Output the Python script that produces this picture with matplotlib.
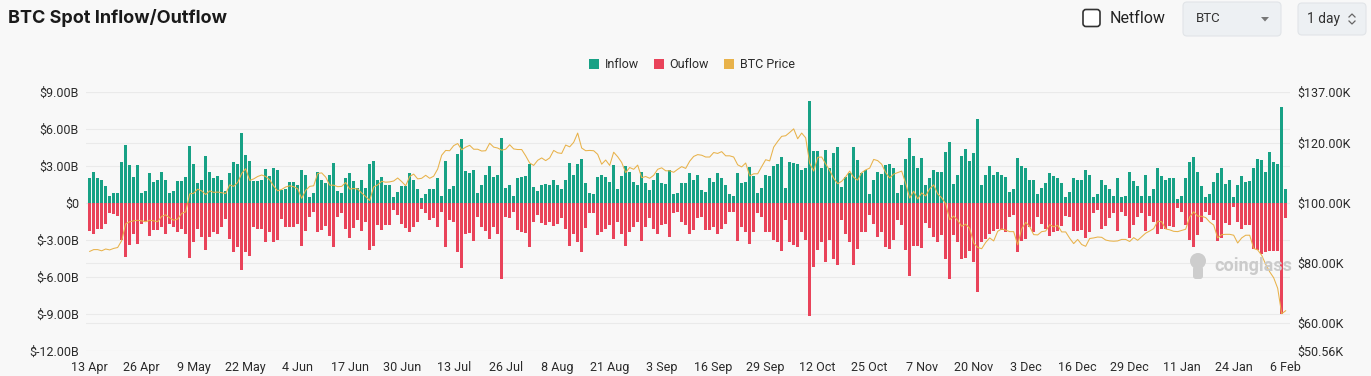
import matplotlib
matplotlib.use("Agg")
import matplotlib.pyplot as plt
from matplotlib.patches import Patch, FancyBboxPatch, Polygon, Circle
import numpy as np

# daily values, 13 Apr 2025 .. 6 Feb 2026 (300 days), in $B
inflow = [
    2.0, 2.5, 2.0, 1.9, 1.35, 0.55, 0.85, 0.85, 3.3, 4.7,
    3.05, 2.1, 3.05, 0.85, 1.0, 2.4, 1.7, 1.85, 2.55, 1.9,
    0.85, 1.0, 1.75, 1.8, 2.1, 4.6, 3.15, 1.6, 1.9, 3.85,
    2.55, 2.0, 2.15, 1.9, 1.0, 2.45, 3.35, 3.15, 5.7, 3.9,
    3.4, 1.75, 1.75, 1.9, 2.75, 2.2, 2.8, 2.65, 1.05, 1.1,
    1.68, 1.68, 1.5, 2.65, 2.25, 0.5, 0.85, 2.5, 1.9, 1.6,
    2.3, 3.25, 0.95, 0.85, 2.0, 2.4, 1.75, 1.2, 1.9, 1.25,
    3.15, 3.4, 1.85, 2.1, 1.5, 1.45, 0.45, 0.9, 1.35, 1.35,
    2.4, 1.85, 1.15, 0.4, 0.75, 1.15, 1.1, 2.0, 0.6, 3.4,
    1.15, 1.35, 4.0, 5.2, 2.6, 2.4, 2.7, 0.8, 1.5, 2.25,
    3.0,
    2.1, 2.3, 5.3, 1.25, 1.45, 0.6, 2.0, 2.1, 2.2, 3.2,
    1.3, 1.0, 1.45, 1.55, 1.45, 1.9, 1.45, 1.15, 1.85, 3.25,
    2.3, 3.2, 3.6, 1.6, 0.8, 0.7, 2.1, 2.3, 2.1, 1.7,
    3.05, 1.15, 2.2, 3.0, 2.5, 1.7, 1.5, 2.55, 1.6, 1.05,
    1.9, 2.45, 1.6, 1.55, 2.7, 0.7, 0.85, 1.6, 1.65, 2.45,
    1.9, 2.25, 1.05, 0.9, 2.0, 1.7, 2.45, 2.0, 1.45, 0.7,
    0.55, 2.45, 1.65, 1.7, 2.9, 2.2, 0.85, 1.2, 2.3, 2.15,
    3.0, 3.15, 3.7, 1.2, 3.35, 3.25, 3.15, 2.65, 2.85, 8.25,
    4.25, 4.25, 2.85, 4.3, 2.85, 4.05, 4.55, 1.3, 2.1, 2.45,
    4.55, 3.45, 2.4, 2.65, 0.75, 1.85, 2.55, 2.35, 3.05, 3.2,
    2.85,
    0.85, 1.5, 3.55, 5.3, 3.8, 2.85, 3.65, 1.45, 2.0, 2.7,
    2.55, 2.5, 4.1, 4.95, 1.55, 2.3, 3.8, 4.4, 3.4, 4.05,
    6.8, 1.5, 2.3, 3.0, 2.25, 2.5, 2.3, 2.1, 0.9, 1.1,
    3.65, 3.0, 2.85, 1.85, 1.9, 0.75, 1.25, 1.65, 2.4, 2.2,
    2.05, 1.65, 0.5, 0.9, 2.0, 1.85, 1.85, 2.65, 2.25, 0.45,
    0.75, 1.9, 1.5, 1.15, 0.6, 2.0, 0.5, 0.55, 2.5, 1.75,
    1.35, 0.6, 2.25, 0.6, 1.15, 2.8, 2.2, 1.85, 2.0, 2.0,
    0.35, 0.6, 2.05, 3.3, 3.7, 2.5, 1.35, 0.5, 0.7, 1.7,
    2.45, 2.85, 1.55, 1.9, 0.45, 1.45, 2.15, 1.7, 1.8, 2.8,
    3.55, 3.5, 2.5, 4.15, 3.3, 3.2, 7.75, 1.1,
]

outflow = [
    2.27, 2.49, 2.11, 2.11, 1.68, 0.81, 0.92, 1.08, 3.03, 4.38,
    3.43, 2.49, 3.3, 1.68, 1.49, 2.68, 2.22, 2.22, 1.95, 2.49,
    1.68, 1.95, 2.35, 2.14, 2.49, 4.46, 3.16, 2.08, 2.76, 3.78,
    2.76, 2.35, 2.49, 1.95, 1.27, 2.95, 3.97, 3.57, 5.46, 3.97,
    4.32, 1.95, 2.08, 2.08, 3.16, 2.35, 3.16, 3.03, 1.27, 1.95,
    1.95, 1.95, 1.7, 3.45, 2.25, 1.1, 0.75, 2.35, 2.2, 1.85,
    2.7, 3.55, 1.1, 0.8, 2.1, 2.8, 2.0, 1.4, 2.3, 1.55,
    3.85, 3.45, 1.8, 2.2, 1.75, 1.8, 0.6, 1.0, 1.7, 2.0,
    2.35, 1.95, 1.55, 0.45, 0.85, 1.4, 1.25, 1.95, 0.75, 3.6,
    1.4, 1.5, 4.0, 5.3, 2.5, 2.45, 3.1, 1.1, 1.95, 2.25,
    2.95,
    1.95, 2.5, 6.2, 1.15, 1.25, 0.7, 2.2, 2.35, 2.45, 3.6,
    1.55, 1.0, 1.6, 1.75, 1.55, 1.85, 1.7, 1.25, 2.1, 3.45,
    2.55, 3.15, 4.0, 2.0, 0.85, 0.85, 2.6, 2.35, 2.1, 1.8,
    2.95, 1.55, 2.5, 3.5, 2.35, 1.95, 1.55, 3.1, 1.95, 1.2,
    2.1, 2.55, 1.8, 1.7, 2.75, 0.85, 0.75, 1.5, 1.75, 2.55,
    2.2, 1.2, 1.15, 2.15, 2.15, 1.95, 2.55, 2.1, 1.7, 0.75,
    0.75, 3.1, 1.95, 2.35, 3.3, 2.35, 0.85, 1.15, 2.35, 2.35,
    3.0, 3.15, 3.9, 1.4, 3.15, 3.4, 3.6, 2.35, 3.0, 9.15,
    5.2, 3.8, 3.15, 4.8, 3.0, 4.5, 5.0, 1.4, 2.5, 3.15,
    5.05, 3.7, 2.35, 2.35, 0.95, 1.7, 2.75, 2.35, 3.55, 3.7,
    3.0,
    1.4, 1.8, 3.85, 5.9, 3.5, 3.45, 3.65, 1.6, 2.0, 2.75,
    3.15, 2.6, 4.5, 6.2, 2.6, 3.15, 4.55, 4.45, 3.9, 4.8,
    7.2, 3.15, 2.95, 2.5, 2.3, 2.1, 2.2, 2.35, 1.15, 1.0,
    4.0, 3.1, 2.95, 1.95, 2.35, 1.15, 1.7, 2.1, 2.7, 2.35,
    2.3, 1.85, 1.05, 1.15, 2.3, 2.3, 2.15, 2.85, 2.35, 0.85,
    0.6, 2.1, 1.9, 1.25, 0.85, 2.25, 0.7, 1.05, 2.85, 1.75,
    1.15, 0.85, 2.3, 1.05, 1.55, 2.5, 2.1, 2.1, 1.85, 1.95,
    0.4, 0.7, 1.8, 3.0, 3.6, 2.6, 1.55, 0.7, 0.95, 1.4,
    3.1, 2.85, 1.6, 1.8, 0.35, 1.55, 2.1, 1.8, 1.75, 3.7,
    3.85, 4.1, 4.0, 3.9, 3.9, 3.9, 9.0, 1.25,
]

# BTC price, $K
price = [
    # Apr 13-30
    83.8, 84.4, 84.4, 84.0, 84.6, 84.3, 84.8, 85.1, 87.4, 93.0,
    93.7, 94.0, 94.2, 94.0, 93.7, 94.2, 94.0, 93.7,
    # May
    95.5, 96.0, 95.0, 94.2, 94.6, 96.5, 97.0, 103.0, 103.2, 104.6,
    104.0, 102.8, 104.0, 103.5, 103.6, 103.4, 103.1, 106.0, 105.5, 106.8,
    109.8, 111.4, 107.5, 108.0, 108.8, 109.3, 108.8, 107.7, 105.6, 104.0,
    104.5,
    # Jun
    105.3, 105.7, 105.4, 104.7, 101.5, 104.2, 105.5, 105.7, 109.8, 110.0,
    108.6, 105.9, 105.9, 105.4, 105.5, 106.8, 104.6, 104.8, 104.6, 103.3,
    102.1, 100.8, 105.3, 106.0, 107.2, 106.9, 107.0, 107.3, 108.3, 107.1,
    # Jul
    105.7, 108.8, 109.6, 108.0, 108.2, 109.2, 108.2, 108.9, 111.3, 115.9,
    117.5, 117.4, 119.1, 119.8, 117.7, 118.6, 119.2, 117.9, 117.9, 117.3,
    117.4, 119.9, 118.6, 118.3, 117.6, 117.9, 119.4, 118.0, 117.8, 117.8,
    115.7,
    # Aug
    113.3, 112.5, 114.2, 115.0, 114.1, 115.0, 117.5, 116.7, 116.5, 119.3,
    118.7, 120.2, 123.3, 118.3, 117.4, 117.5, 117.4, 116.2, 112.9, 114.3,
    112.5, 116.9, 115.4, 113.5, 110.1, 111.8, 111.2, 112.6, 108.4, 108.8,
    108.2,
    # Sep
    109.2, 111.2, 111.7, 110.7, 110.7, 110.2, 111.2, 112.1, 111.5, 113.9,
    115.5, 116.1, 115.9, 115.3, 115.3, 116.8, 116.5, 117.1, 115.7, 115.7,
    115.3, 112.7, 112.0, 113.3, 109.0, 109.7, 109.7, 112.1, 114.4, 114.0,
    # Oct
    118.6, 120.5, 122.2, 122.4, 123.5, 124.7, 121.4, 123.3, 121.7, 113.2,
    110.6, 115.2, 115.3, 113.0, 110.8, 108.2, 106.4, 107.2, 108.7, 110.6,
    108.5, 107.6, 110.1, 111.0, 111.6, 114.5, 114.1, 112.9, 110.1, 108.3,
    109.6,
    # Nov
    110.1, 110.6, 106.5, 101.6, 103.9, 101.3, 103.3, 102.3, 104.7, 106.0,
    103.0, 101.7, 99.7, 94.4, 95.6, 94.2, 92.2, 92.9, 91.5, 86.6,
    85.1, 84.7, 86.8, 88.3, 87.3, 90.5, 91.3, 90.9, 90.4, 90.4,
    # Dec
    86.0, 91.3, 93.5, 92.1, 89.4, 89.3, 90.4, 90.6, 92.7, 92.0,
    92.5, 90.3, 90.3, 88.2, 86.4, 87.8, 86.1, 85.5, 88.1, 88.3,
    88.6, 88.5, 87.6, 87.3, 87.2, 87.3, 87.8, 87.8, 87.1, 88.4,
    87.5,
    # Jan
    88.7, 89.9, 90.6, 91.4, 93.9, 93.7, 91.3, 91.0, 90.5, 90.4,
    90.8, 91.2, 95.3, 97.0, 95.6, 95.5, 95.1, 93.6, 92.6, 88.3,
    89.4, 89.5, 89.5, 89.2, 86.6, 88.3, 89.2, 89.2, 84.8, 84.3,
    82.5,
    # Feb 1-6
    79.5, 77.0, 75.0, 71.5, 63.0, 64.0,
]

date_labels = ["13 Apr", "26 Apr", "9 May", "22 May", "4 Jun", "17 Jun",
               "30 Jun", "13 Jul", "26 Jul", "8 Aug", "21 Aug", "3 Sep",
               "16 Sep", "29 Sep", "12 Oct", "25 Oct", "7 Nov", "20 Nov",
               "3 Dec", "16 Dec", "29 Dec", "11 Jan", "24 Jan", "6 Feb"]
left_ticks = [9, 6, 3, 0, -3, -6, -9, -12]
left_labels = ["$9.00B", "$6.00B", "$3.00B", "$0", "$-3.00B", "$-6.00B",
               "$-9.00B", "$-12.00B"]
right_ticks = [137, 120, 100, 80, 60, 50.56]
right_labels = ["$137.00K", "$120.00K", "$100.00K", "$80.00K", "$60.00K",
                "$50.56K"]

GREEN = "#17a185"
RED = "#e9435a"
GOLD = "#e8b24a"
GRID = "#eaeaea"
TXT = "#2b2b2b"

plt.rcParams["font.family"] = ["Roboto", "DejaVu Sans"]

W, H = 1371, 376
fig = plt.figure(figsize=(W / 100, H / 100), dpi=100, facecolor="#f8f8f8")

ax = fig.add_axes([86 / W, (H - 351) / H, (1290 - 86) / W, (351 - 92) / H])
ax.set_facecolor("none")
x = np.arange(len(inflow))
ax.bar(x, inflow, width=0.62, color=GREEN, zorder=2)
ax.bar(x, -np.array(outflow), width=0.62, color=RED, zorder=2)
ax.set_xlim(-0.92, 300.08)
ax.set_ylim(-12, 9)

for v in left_ticks:
    ax.axhline(v, color=GRID, lw=0.8, zorder=0)
# right axis split lines, mapped onto the left scale
for p in right_ticks:
    v = -12 + (p - 50.56) * 21 / (137 - 50.56)
    ax.axhline(v, color=GRID, lw=0.8, zorder=0)

ax.set_yticks(left_ticks)
ax.set_yticklabels(left_labels)
ax.set_xticks(np.arange(0, len(inflow), 13))
ax.set_xticklabels(date_labels)
ax.tick_params(length=0, labelsize=9, colors=TXT)
ax.tick_params(axis="y", pad=5)
ax.tick_params(axis="x", pad=7)

ax2 = ax.twinx()
ax2.plot(x, price, color=GOLD, lw=0.75)
ax2.set_ylim(50.56, 137)
ax2.set_yticks(right_ticks)
ax2.set_yticklabels(right_labels)
ax2.tick_params(length=0, labelsize=9, colors=TXT, pad=5)

for a in (ax, ax2):
    for s in a.spines.values():
        s.set_visible(False)

# overlay in pixel coordinates for header widgets
ov = fig.add_axes([0, 0, 1, 1])
ov.set_xlim(0, W)
ov.set_ylim(H, 0)
ov.axis("off")
ov.patch.set_alpha(0)

ov.text(8, 18, "BTC Spot Inflow/Outflow", fontsize=13, fontweight="bold",
        family=["Inter", "DejaVu Sans"], va="center", color="#1a1a1a")

ov.add_patch(FancyBboxPatch((1083, 9.5), 17, 17, boxstyle="round,pad=0,rounding_size=3",
                            fc="white", ec="#333333", lw=1.2))
ov.text(1110, 18.5, "Netflow", fontsize=11.5, va="center", color="#222222")

ov.add_patch(FancyBboxPatch((1183, 2), 98, 34, boxstyle="round,pad=0,rounding_size=4",
                            fc="#edf0f3", ec="#e1e4e8", lw=0.8))
ov.text(1196, 19, "BTC", fontsize=9.5, va="center", color="#333333")
ov.add_patch(Polygon([[1261, 17], [1269, 17], [1265, 21.5]], closed=True,
                     fc="#777777", ec="none"))

ov.add_patch(FancyBboxPatch((1298, 3), 68, 32, boxstyle="round,pad=0,rounding_size=4",
                            fc="#edf0f3", ec="#e1e4e8", lw=0.8))
ov.text(1307, 19, "1 day", fontsize=10, va="center", color="#333333")
ov.plot([1349, 1352, 1355], [17, 14, 17], color="#666666", lw=0.9)
ov.plot([1349, 1352, 1355], [21, 24, 21], color="#666666", lw=0.9)

handles = [Patch(fc=GREEN), Patch(fc=RED), Patch(fc=GOLD)]
fig.legend(handles, ["Inflow", "Ouflow", "BTC Price"], loc="center",
           bbox_to_anchor=(692 / W, 1 - 65 / H), ncol=3, frameon=False,
           fontsize=9, handlelength=0.8, handleheight=0.8, handletextpad=0.45,
           columnspacing=1.2, labelcolor=TXT)

# watermark
ov.add_patch(Circle((1198, 261), 8, fc="#cdcdcd", ec="none"))
ov.add_patch(FancyBboxPatch((1193, 266), 10, 13, boxstyle="round,pad=0,rounding_size=3",
                            fc="#cdcdcd", ec="none"))
ov.text(1214, 266, "coinglass", fontsize=13, fontweight="bold", va="center",
        color="#cbcbcb")

fig.savefig("out.png", dpi=100, facecolor=fig.get_facecolor())
